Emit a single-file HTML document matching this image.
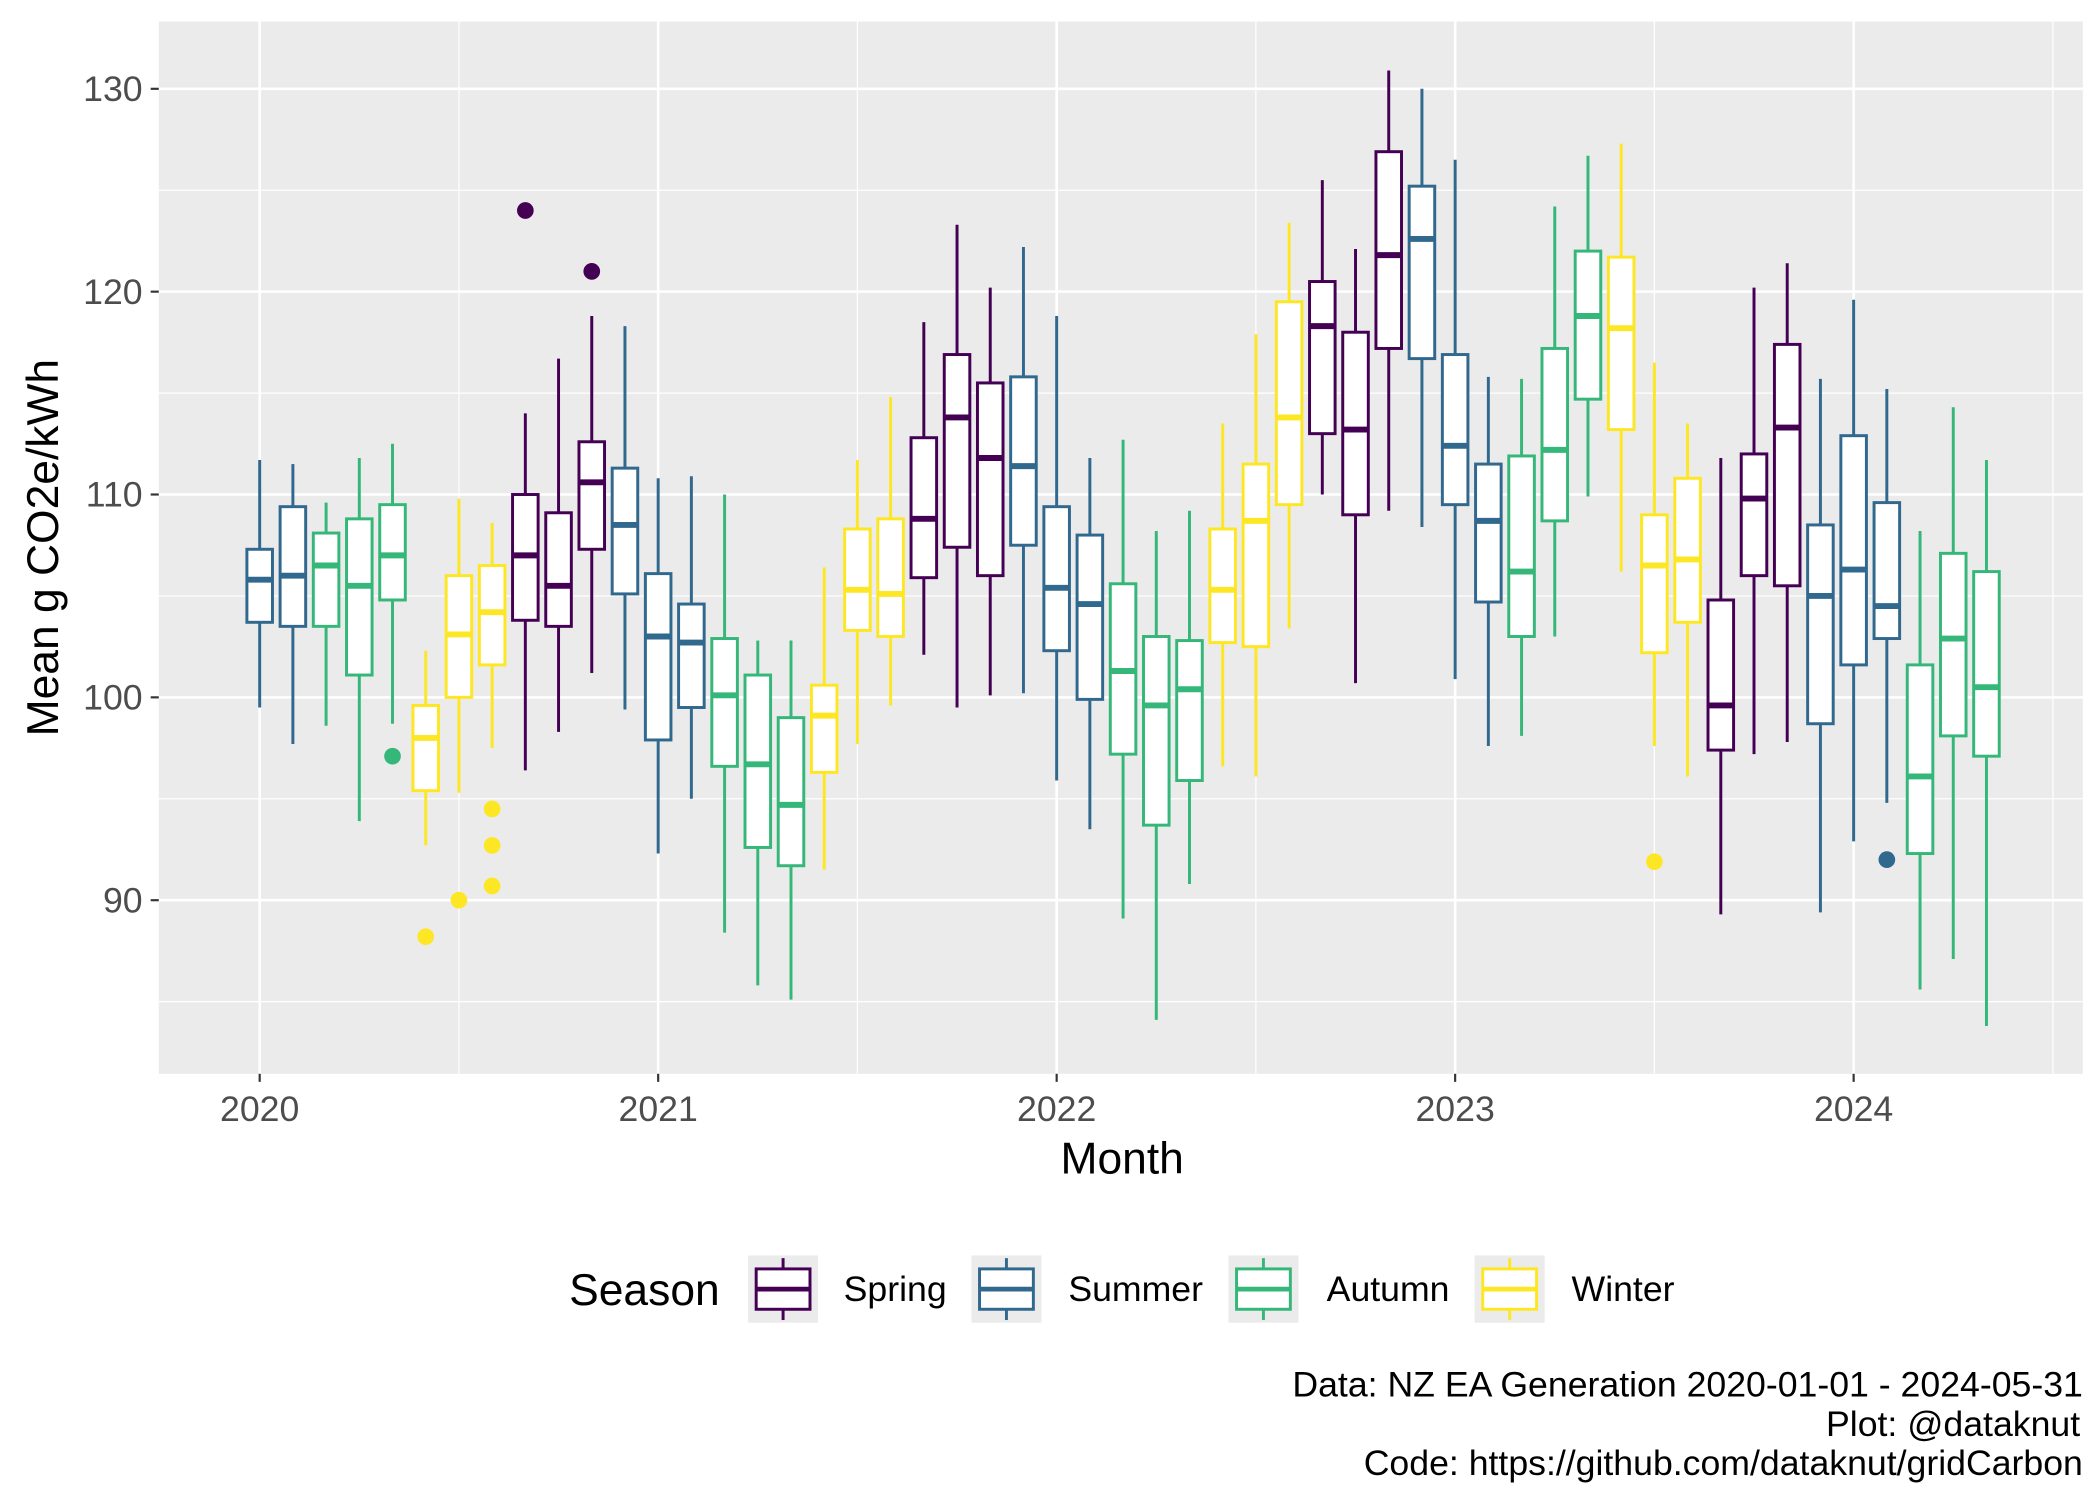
<!DOCTYPE html>
<html><head><meta charset="utf-8"><style>
html,body{margin:0;padding:0;background:#fff}
svg{display:block;font-family:"Liberation Sans",Arial,sans-serif}
</style></head><body>
<svg id="chart" width="2099" height="1499" viewBox="0 0 1560 1114" preserveAspectRatio="none" xmlns="http://www.w3.org/2000/svg">
<rect x="0" y="0" width="1560" height="1114" fill="#fff"/>
<rect x="118" y="16" width="1430" height="782" fill="#EBEBEB"/>
<g id="grid"></g>
<g id="boxes"></g>
<g id="axes"></g>
<text x="834" y="872" font-size="33" text-anchor="middle" fill="#000">Month</text>
<text transform="translate(43,407) rotate(-90)" font-size="33" text-anchor="middle" fill="#000">Mean g CO2e/kWh</text>
<g id="legend">
<text x="423" y="970" font-size="33" fill="#000">Season</text>
</g>
<g font-size="26.5" text-anchor="end" fill="#000">
<text x="1548" y="1038">Data: NZ EA Generation 2020-01-01 - 2024-05-31</text>
<text x="1546" y="1067">Plot: @dataknut</text>
<text x="1548" y="1096">Code: https://github.com/dataknut/gridCarbon</text>
</g>
</svg>
<script>
const months = [0,1,2,3,4,5,6,7,8,9,10,11,12,13,14,15,16,17,18,19,20,21,22,23,24,25,26,27,28,29,30,31,32,33,34,35,36,37,38,39,40,41,42,43,44,45,46,47,48,49,50,51,52];
const seasons = ["Summer","Summer","Autumn","Autumn","Autumn","Winter","Winter","Winter","Spring","Spring","Spring","Summer",
"Summer","Summer","Autumn","Autumn","Autumn","Winter","Winter","Winter","Spring","Spring","Spring","Summer",
"Summer","Summer","Autumn","Autumn","Autumn","Winter","Winter","Winter","Spring","Spring","Spring","Summer",
"Summer","Summer","Autumn","Autumn","Autumn","Winter","Winter","Winter","Spring","Spring","Spring","Summer",
"Summer","Summer","Autumn","Autumn","Autumn"];
const mins = [99.5,97.7,98.6,93.9,98.7,92.7,95.3,97.5,96.4,98.3,101.2,99.4,
92.3,95.0,88.4,85.8,85.1,91.5,97.7,99.6,102.1,99.5,100.1,100.2,
95.9,93.5,89.1,84.1,90.8,96.6,96.1,103.4,110.0,100.7,109.2,108.4,
100.9,97.6,98.1,103.0,109.9,106.2,97.6,96.1,89.3,97.2,97.8,89.4,
92.9,94.8,85.6,87.1,83.8];
const q1s = [103.7,103.5,103.5,101.1,104.8,95.4,100.0,101.6,103.8,103.5,107.3,105.1,
97.9,99.5,96.6,92.6,91.7,96.3,103.3,103.0,105.9,107.4,106.0,107.5,
102.3,99.9,97.2,93.7,95.9,102.7,102.5,109.5,113.0,109.0,117.2,116.7,
109.5,104.7,103.0,108.7,114.7,113.2,102.2,103.7,97.4,106.0,105.5,98.7,
101.6,102.9,92.3,98.1,97.1];
const medians = [105.8,106.0,106.5,105.5,107.0,98.0,103.1,104.2,107.0,105.5,110.6,108.5,
103.0,102.7,100.1,96.7,94.7,99.1,105.3,105.1,108.8,113.8,111.8,111.4,
105.4,104.6,101.3,99.6,100.4,105.3,108.7,113.8,118.3,113.2,121.8,122.6,
112.4,108.7,106.2,112.2,118.8,118.2,106.5,106.8,99.6,109.8,113.3,105.0,
106.3,104.5,96.1,102.9,100.5];
const q3s = [107.3,109.4,108.1,108.8,109.5,99.6,106.0,106.5,110.0,109.1,112.6,111.3,
106.1,104.6,102.9,101.1,99.0,100.6,108.3,108.8,112.8,116.9,115.5,115.8,
109.4,108.0,105.6,103.0,102.8,108.3,111.5,119.5,120.5,118.0,126.9,125.2,
116.9,111.5,111.9,117.2,122.0,121.7,109.0,110.8,104.8,112.0,117.4,108.5,
112.9,109.6,101.6,107.1,106.2];
const maxs = [111.7,111.5,109.6,111.8,112.5,102.3,109.8,108.6,114.0,116.7,118.8,118.3,
110.8,110.9,110.0,102.8,102.8,106.4,111.7,114.8,118.5,123.3,120.2,122.2,
118.8,111.8,112.7,108.2,109.2,113.5,117.9,123.4,125.5,122.1,130.9,130.0,
126.5,115.8,115.7,124.2,126.7,127.3,116.5,113.5,111.8,120.2,121.4,115.7,
119.6,115.2,108.2,114.3,111.7];
const outlierMonths = [4,5,6,7,7,7,8,10,42,49];
const outlierValues = [97.1,88.2,90.0,94.5,92.7,90.7,124.0,121.0,91.9,92.0];
const yTicks = [90,100,110,120,130];
const yMinor = [85,95,105,115,125];
const xTickLabels = ["2020","2021","2022","2023","2024"];
const xTickMonths = [0,12,24,36,48];
const xMinorMonths = [6,18,30,42,54];
const legendSeasons = ["Spring","Summer","Autumn","Winter"];

const colors = {Spring:"#440154",Summer:"#31688E",Autumn:"#35B779",Winter:"#FDE725"};
const NS="http://www.w3.org/2000/svg";
const X = m => 193 + m*24.68;
const Y = v => 669 - (v-90)*15.075;
function mk(tag, attrs, parent){const e=document.createElementNS(NS,tag);for(const k in attrs)e.setAttribute(k,attrs[k]);parent.appendChild(e);return e;}
const grid=document.getElementById('grid'), boxes=document.getElementById('boxes'), axes=document.getElementById('axes');
yMinor.forEach(v=>{const l=mk('line',{x1:118,x2:1548,y1:Y(v),y2:Y(v),stroke:'#fff','stroke-width':0.9},grid);

});
xMinorMonths.forEach(m=>{const l=mk('line',{x1:X(m),x2:X(m),y1:16,y2:798,stroke:'#fff','stroke-width':0.9},grid);

});
yTicks.forEach(v=>{const l=mk('line',{x1:118,x2:1548,y1:Y(v),y2:Y(v),stroke:'#fff','stroke-width':1.9},grid);


const t=mk('line',{x1:112,x2:118,y1:Y(v),y2:Y(v),stroke:'#333','stroke-width':1.6},axes);


const tx=mk('text',{x:106,y:Y(v)+9,'font-size':26.5,'text-anchor':'end',fill:'#4D4D4D'},axes);
tx.textContent=v;

});
xTickMonths.forEach((m,i)=>{const l=mk('line',{x1:X(m),x2:X(m),y1:16,y2:798,stroke:'#fff','stroke-width':1.9},grid);


const t=mk('line',{x1:X(m),x2:X(m),y1:798,y2:804,stroke:'#333','stroke-width':1.6},axes);


const tx=mk('text',{x:X(m),y:833,'font-size':26.5,'text-anchor':'middle',fill:'#4D4D4D'},axes);
tx.textContent=xTickLabels[i];

});
const hw=9.5;
months.forEach((m,i)=>{const c=colors[seasons[i]],x=X(m);
const g=mk('g',{},boxes);


mk('line',{x1:x,x2:x,y1:Y(maxs[i]),y2:Y(q3s[i]),stroke:c,'stroke-width':2.2},g);
mk('line',{x1:x,x2:x,y1:Y(q1s[i]),y2:Y(mins[i]),stroke:c,'stroke-width':2.2},g);
mk('rect',{x:x-hw,y:Y(q3s[i]),width:2*hw,height:Y(q1s[i])-Y(q3s[i]),fill:'#fff',stroke:c,'stroke-width':2.2},g);
mk('line',{x1:x-hw,x2:x+hw,y1:Y(medians[i]),y2:Y(medians[i]),stroke:c,'stroke-width':4.4},g);});
outlierMonths.forEach((m,i)=>{const p=mk('circle',{cx:X(m),cy:Y(outlierValues[i]),r:6.2,fill:colors[seasons[m]]},boxes);

});
const leg=document.getElementById('legend');
const keyX=[556,722,913,1096], labX=[627,794,986,1168];
legendSeasons.forEach((s,i)=>{const c=colors[s];
const g=mk('g',{},leg);


mk('rect',{x:keyX[i],y:933,width:52,height:50,fill:'#EBEBEB'},g);
const cx=keyX[i]+26;
mk('line',{x1:cx,x2:cx,y1:935,y2:943,stroke:c,'stroke-width':2.2},g);
mk('line',{x1:cx,x2:cx,y1:973,y2:981,stroke:c,'stroke-width':2.2},g);
mk('rect',{x:keyX[i]+6,y:943,width:40,height:30,fill:'#fff',stroke:c,'stroke-width':2.2},g);
mk('line',{x1:keyX[i]+6,x2:keyX[i]+46,y1:958,y2:958,stroke:c,'stroke-width':3.5},g);
const t=mk('text',{x:labX[i],y:967,'font-size':26.5,fill:'#000'},g);
t.textContent=s;});
</script>
</body></html>
